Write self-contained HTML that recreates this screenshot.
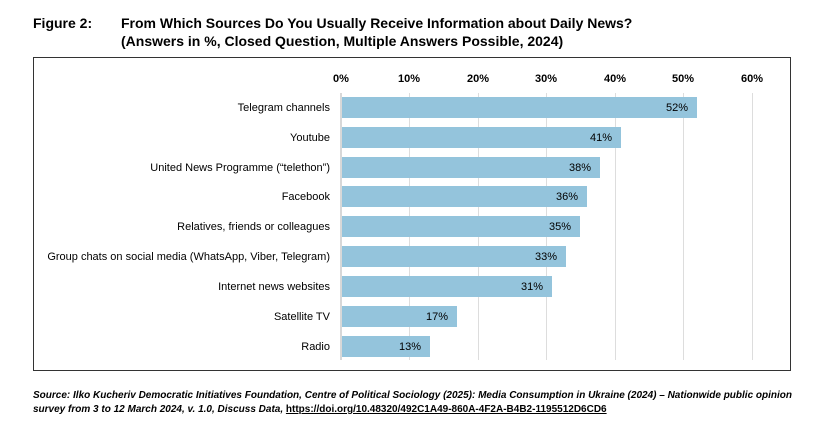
<!DOCTYPE html><html><head><style>body{margin:0;background:#fff}svg text{font-family:"Liberation Sans",sans-serif}</style></head><body>
<svg width="823" height="440" xmlns="http://www.w3.org/2000/svg">
<text x="33" y="28" font-size="14" font-weight="bold">Figure 2:</text>
<text x="121" y="28" font-size="14" font-weight="bold">From Which Sources Do You Usually Receive Information about Daily News?</text>
<text x="121" y="46" font-size="14" font-weight="bold">(Answers in %, Closed Question, Multiple Answers Possible, 2024)</text>
<rect x="33.5" y="57.5" width="757" height="313" fill="none" stroke="#333" stroke-width="1"/>
<g stroke="#ddd" stroke-width="1">
<line x1="409.5" y1="93" x2="409.5" y2="360"/><line x1="478.5" y1="93" x2="478.5" y2="360"/><line x1="546.5" y1="93" x2="546.5" y2="360"/><line x1="615.5" y1="93" x2="615.5" y2="360"/><line x1="683.5" y1="93" x2="683.5" y2="360"/><line x1="752.5" y1="93" x2="752.5" y2="360"/>
</g>
<line x1="341" y1="93" x2="341" y2="360" stroke="#ccc" stroke-width="1.5"/>
<g font-size="11" font-weight="bold" text-anchor="middle">
<text x="341" y="82">0%</text><text x="409" y="82">10%</text><text x="478" y="82">20%</text><text x="546" y="82">30%</text><text x="615" y="82">40%</text><text x="683" y="82">50%</text><text x="752" y="82">60%</text>
</g>
<g fill="#94c4dc">
<rect x="342" y="97" width="355" height="21"/>
<rect x="342" y="127" width="279" height="21"/>
<rect x="342" y="157" width="258" height="21"/>
<rect x="342" y="186" width="245" height="21"/>
<rect x="342" y="216" width="238" height="21"/>
<rect x="342" y="246" width="224" height="21"/>
<rect x="342" y="276" width="210" height="21"/>
<rect x="342" y="306" width="115" height="21"/>
<rect x="342" y="336" width="88" height="21"/>
</g>
<g font-size="11" text-anchor="end">
<text x="330" y="111">Telegram channels</text>
<text x="330" y="141">Youtube</text>
<text x="330" y="171">United News Programme (“telethon”)</text>
<text x="330" y="200">Facebook</text>
<text x="330" y="230">Relatives, friends or colleagues</text>
<text x="330" y="260">Group chats on social media (WhatsApp, Viber, Telegram)</text>
<text x="330" y="290">Internet news websites</text>
<text x="330" y="320">Satellite TV</text>
<text x="330" y="350">Radio</text>
<text x="688" y="111">52%</text>
<text x="612" y="141">41%</text>
<text x="591" y="171">38%</text>
<text x="578" y="200">36%</text>
<text x="571" y="230">35%</text>
<text x="557" y="260">33%</text>
<text x="543" y="290">31%</text>
<text x="448" y="320">17%</text>
<text x="421" y="350">13%</text>
</g>
<text x="33" y="398" font-size="10" font-style="italic" font-weight="bold">Source: Ilko Kucheriv Democratic Initiatives Foundation, Centre of Political Sociology (2025): Media Consumption in Ukraine (2024) – Nationwide public opinion</text>
<text x="33" y="412" font-size="10" font-style="italic" font-weight="bold">survey from 3 to 12 March 2024, v. 1.0, Discuss Data, <tspan font-style="normal" text-decoration="underline">https://doi.org/10.48320/492C1A49-860A-4F2A-B4B2-1195512D6CD6</tspan></text>
</svg>
</body></html>
